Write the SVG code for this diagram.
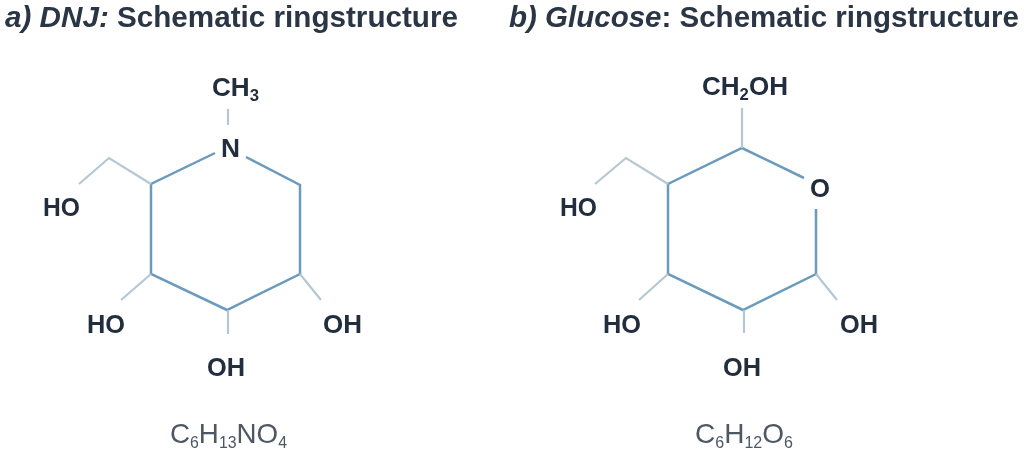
<svg xmlns="http://www.w3.org/2000/svg" width="1024" height="455" viewBox="0 0 1024 455">
<style>
text{font-family:"Liberation Sans",Arial,sans-serif;fill:#222f3e}
.t{font-size:30px;font-weight:700;fill:#2a3644}
.l{font-size:25px;font-weight:700}
.f{font-size:28px;fill:#4d5864}
.s{font-size:16px}
.ring{fill:none;stroke:#6b9bbd;stroke-width:2.5}
.side{fill:none;stroke:#b4c8d4;stroke-width:2.2}
</style>
<defs><filter id="b" x="-5%" y="-5%" width="110%" height="110%"><feGaussianBlur stdDeviation="0.6"/></filter></defs>
<rect width="1024" height="455" fill="#fff"/>
<g filter="url(#b)">
<g id="connectors">
<path class="ring" d="M215 153L151 184V274L227 310L300 274V185L246 157"/>
<path class="side" d="M151 184L109 158L79 184M151 274L121 300M228 310V334M300 274L321 300M228 109V125"/>
<path class="ring" d="M804 178L742 148L668 184V274L743 310L816 274V209"/>
<path class="side" d="M668 184L626 158L595 184M668 274L639 300M744 310V333M816 274L837 300M742 148V108"/>
</g>
<g id="title-a"><text class="t" x="5" y="27" textLength="453" lengthAdjust="spacingAndGlyphs"><tspan font-style="italic">a) DNJ:</tspan> Schematic ringstructure</text></g>
<g id="title-b"><text class="t" x="509" y="27" textLength="510" lengthAdjust="spacingAndGlyphs"><tspan font-style="italic">b) Glucose</tspan>: Schematic ringstructure</text></g>
<g id="dnj">
<text class="l" x="212" y="96" textLength="47" lengthAdjust="spacingAndGlyphs">CH<tspan class="s" dy="5">3</tspan></text>
<text class="l" x="221" y="157" textLength="19" lengthAdjust="spacingAndGlyphs">N</text>
<text class="l" x="43" y="216" textLength="37" lengthAdjust="spacingAndGlyphs">HO</text>
<text class="l" x="87" y="333" textLength="38" lengthAdjust="spacingAndGlyphs">HO</text>
<text class="l" x="323" y="333" textLength="39" lengthAdjust="spacingAndGlyphs">OH</text>
<text class="l" x="207" y="376" textLength="38" lengthAdjust="spacingAndGlyphs">OH</text>
<text class="f" x="170" y="443" textLength="117" lengthAdjust="spacingAndGlyphs">C<tspan class="s" dy="5">6</tspan><tspan dy="-5">H</tspan><tspan class="s" dy="5">13</tspan><tspan dy="-5">NO</tspan><tspan class="s" dy="5">4</tspan></text>
</g>
<g id="glucose">
<text class="l" x="702" y="95" textLength="86" lengthAdjust="spacingAndGlyphs">CH<tspan class="s" dy="5">2</tspan><tspan dy="-5">OH</tspan></text>
<text class="l" x="810" y="197" textLength="20" lengthAdjust="spacingAndGlyphs">O</text>
<text class="l" x="560" y="216" textLength="37" lengthAdjust="spacingAndGlyphs">HO</text>
<text class="l" x="603" y="333" textLength="38" lengthAdjust="spacingAndGlyphs">HO</text>
<text class="l" x="840" y="333" textLength="38" lengthAdjust="spacingAndGlyphs">OH</text>
<text class="l" x="723" y="376" textLength="38" lengthAdjust="spacingAndGlyphs">OH</text>
<text class="f" x="695" y="443" textLength="98" lengthAdjust="spacingAndGlyphs">C<tspan class="s" dy="5">6</tspan><tspan dy="-5">H</tspan><tspan class="s" dy="5">12</tspan><tspan dy="-5">O</tspan><tspan class="s" dy="5">6</tspan></text>
</g>
</g>
</svg>
